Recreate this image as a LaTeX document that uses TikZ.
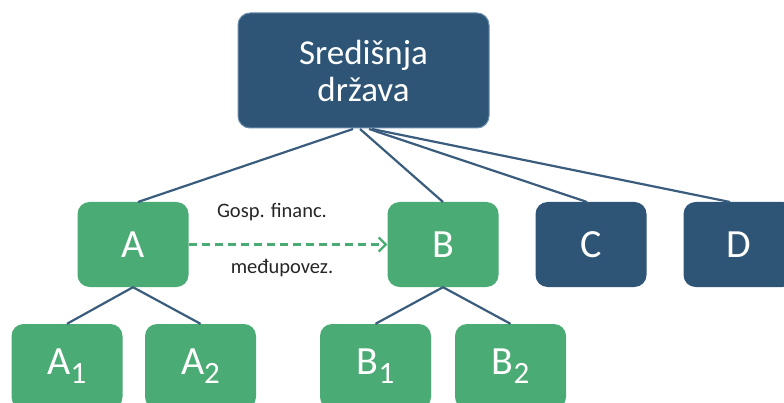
\documentclass[tikz,border=0pt]{standalone}
\usepackage{fontspec}
\setmainfont{Carlito}
\usetikzlibrary{arrows.meta}
\definecolor{dblue}{HTML}{2E5576}
\definecolor{lblue}{HTML}{6A8CAA}
\definecolor{sgreen}{HTML}{4BAB74}
\definecolor{lnc}{HTML}{3A5D7D}
\tikzset{
  box/.style={rectangle, rounded corners=12pt, minimum width=111pt, minimum height=85pt, inner sep=0pt, text=white, font=\fontsize{40}{42}\selectfont},
  gbox/.style={box, fill=sgreen},
  bbox/.style={box, fill=dblue},
  conn/.style={draw=lnc, line width=2.2pt},
  lbl/.style={font=\fontsize{20.5}{22}\selectfont, text=black!85, inner sep=0pt},
}
\newcommand{\sbs}[1]{\raisebox{-9pt}{\fontsize{31}{33}\selectfont #1}}
\begin{document}
\begin{tikzpicture}[x=1pt,y=-1pt]
\useasboundingbox (0,0) rectangle (784,403);
\clip (0,0) rectangle (784,403);
\node[bbox, draw=lblue, line width=1pt, minimum width=251pt, minimum height=115pt, align=center, font=\fontsize{35}{37}\selectfont] (top) at (363.5,70.5) {Središnja\\država};
\node[gbox] (A) at (133,244.5) {A};
\node[gbox] (B) at (443,244.5) {B};
\node[bbox] (C) at (591,244.5) {C};
\node[bbox] (D) at (739,244.5) {D};
\node[gbox] (A1) at (67,366.5) {A\sbs{1}};
\node[gbox] (A2) at (200.5,366.5) {A\sbs{2}};
\node[gbox] (B1) at (375.5,366.5) {B\sbs{1}};
\node[gbox] (B2) at (510.5,366.5) {B\sbs{2}};
\coordinate (tA) at (353,129);
\coordinate (tB) at (360,129);
\coordinate (tC) at (369,129);
\coordinate (tD) at (372,129);
\coordinate (eA) at (138,202);
\coordinate (eB) at (443,202);
\coordinate (eC) at (587,202);
\coordinate (eD) at (730,202);
\draw[conn] (tA) -- (eA);
\draw[conn] (tB) -- (eB);
\draw[conn] (tC) -- (eC);
\draw[conn] (tD) -- (eD);
\draw[conn] (A.south) -- (A1.north);
\draw[conn] (A.south) -- (A2.north);
\draw[conn] (B.south) -- (B1.north);
\draw[conn] (B.south) -- (B2.north);
\draw[draw=sgreen, line width=2.3pt, dash pattern=on 8pt off 5pt, -{Straight Barb[length=7pt,width=14pt,line width=2.3pt]}] (A.east) -- (B.west);
\node[lbl] (l1) at (272,212) {Gosp. financ.};
\node[lbl] (l2) at (282,268) {međupovez.};
\end{tikzpicture}
\end{document}
